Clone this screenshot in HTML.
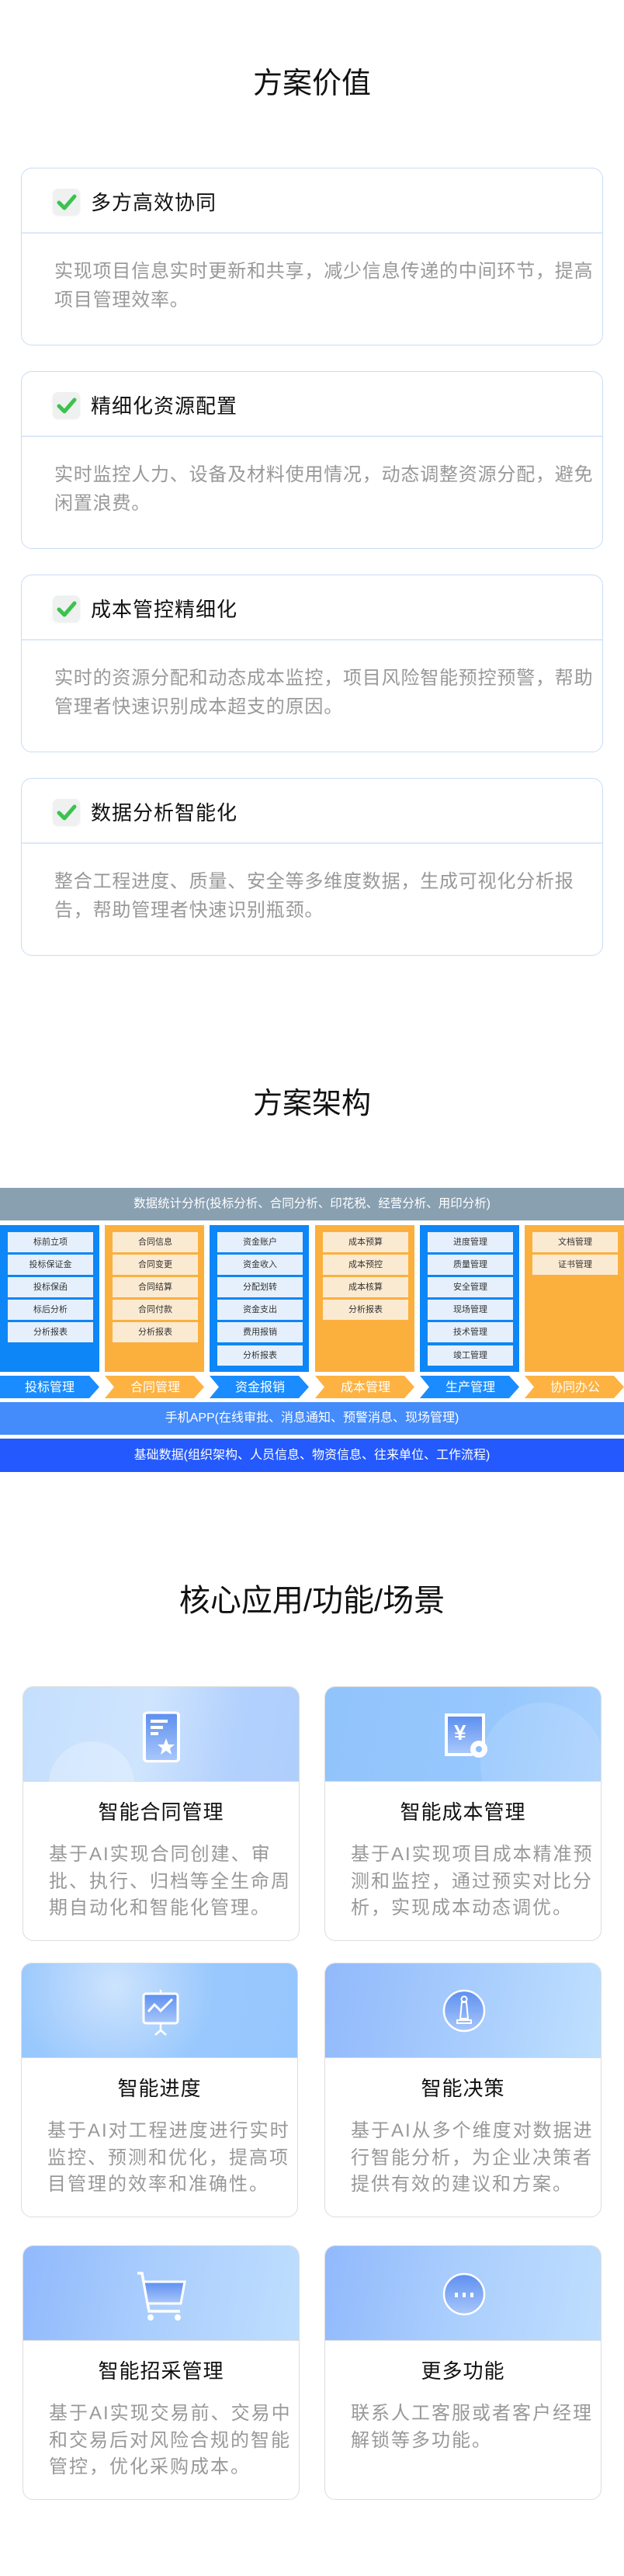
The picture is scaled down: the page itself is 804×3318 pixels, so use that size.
<!DOCTYPE html>
<html><head><meta charset="utf-8"><style>
*{margin:0;padding:0;box-sizing:border-box}
body{width:804px;height:3318px;background:#fff;position:relative;font-family:"Liberation Sans","Noto Sans CJK SC",sans-serif;overflow:hidden}
.a{position:absolute}
.h1{position:absolute;left:0;width:804px;text-align:center;font-size:38px;color:#111;line-height:46px}
.vc{position:absolute;left:27px;width:750px;height:229px;border:1.5px solid #cadcf6;border-radius:14px}
.vc .hd{position:absolute;left:0;top:0;width:100%;height:84px;border-bottom:2px solid #dce8fa}
.vc .ck{position:absolute;left:40px;top:26px;width:35px;height:34px;border-radius:7px;background:#eef1ef;box-shadow:0 1px 2px rgba(0,0,0,.08)}
.vc .tt{position:absolute;left:89px;top:27px;font-size:26px;letter-spacing:1px;color:#111;line-height:34px}
.vc .bd{position:absolute;left:42px;top:114px;font-size:24px;letter-spacing:0.8px;color:#999;line-height:37px;white-space:nowrap}
.col{position:absolute;top:1578px;width:128px;height:189px}
.blue{background:#0d86f7}.orange{background:#fbb03e}
.it{position:absolute;left:10px;width:110px;height:26px;font-size:11px;line-height:26px;text-align:center;color:#333}
.blue .it{background:#e6f0fc}.orange .it{background:#fbead2}
.bar{position:absolute;left:0;width:804px;color:#fff;font-size:16px;text-align:center}
.cd{position:absolute;width:357px;height:328px;border:1.5px solid #ddd;border-radius:14px;overflow:hidden;background:#fff}
.cd .im{position:absolute;left:0;top:0;width:100%;height:122px;border-bottom:1px solid #d5dbe5}
.cd .ti{position:absolute;left:0;width:100%;top:144px;text-align:center;font-size:26px;letter-spacing:1px;color:#111;line-height:34px}
.cd .tx{position:absolute;left:33px;top:199px;font-size:24px;letter-spacing:2px;color:#999;line-height:34.5px;white-space:nowrap}
.cd svg{position:absolute;left:148px;top:28px}
</style></head><body>

<div class="h1" style="top:85px">方案价值</div>

<div class="vc" style="top:216px"><div class="hd"><div class="ck"><svg width="35" height="34"><path d="M8 18 L15 25 L28 10" stroke="#3cc24f" stroke-width="5" fill="none" stroke-linecap="round" stroke-linejoin="round"/></svg></div><div class="tt">多方高效协同</div></div><div class="bd">实现项目信息实时更新和共享，减少信息传递的中间环节，提高<br>项目管理效率。</div></div>

<div class="vc" style="top:478px"><div class="hd"><div class="ck"><svg width="35" height="34"><path d="M8 18 L15 25 L28 10" stroke="#3cc24f" stroke-width="5" fill="none" stroke-linecap="round" stroke-linejoin="round"/></svg></div><div class="tt">精细化资源配置</div></div><div class="bd">实时监控人力、设备及材料使用情况，动态调整资源分配，避免<br>闲置浪费。</div></div>

<div class="vc" style="top:740px"><div class="hd"><div class="ck"><svg width="35" height="34"><path d="M8 18 L15 25 L28 10" stroke="#3cc24f" stroke-width="5" fill="none" stroke-linecap="round" stroke-linejoin="round"/></svg></div><div class="tt">成本管控精细化</div></div><div class="bd">实时的资源分配和动态成本监控，项目风险智能预控预警，帮助<br>管理者快速识别成本超支的原因。</div></div>

<div class="vc" style="top:1002px"><div class="hd"><div class="ck"><svg width="35" height="34"><path d="M8 18 L15 25 L28 10" stroke="#3cc24f" stroke-width="5" fill="none" stroke-linecap="round" stroke-linejoin="round"/></svg></div><div class="tt">数据分析智能化</div></div><div class="bd">整合工程进度、质量、安全等多维度数据，生成可视化分析报<br>告，帮助管理者快速识别瓶颈。</div></div>

<div class="h1" style="top:1399px">方案架构</div>

<div class="bar" style="top:1530px;height:42px;line-height:42px;background:#89a0b1;font-size:15.5px">数据统计分析(投标分析、合同分析、印花税、经营分析、用印分析)</div>

<div class="col blue" style="left:0">
<div class="it" style="top:9px">标前立项</div><div class="it" style="top:38px">投标保证金</div><div class="it" style="top:67px">投标保函</div><div class="it" style="top:96px">标后分析</div><div class="it" style="top:125px">分析报表</div></div>
<div class="col orange" style="left:135px">
<div class="it" style="top:9px">合同信息</div><div class="it" style="top:38px">合同变更</div><div class="it" style="top:67px">合同结算</div><div class="it" style="top:96px">合同付款</div><div class="it" style="top:125px">分析报表</div></div>
<div class="col blue" style="left:270px">
<div class="it" style="top:9px">资金账户</div><div class="it" style="top:38px">资金收入</div><div class="it" style="top:67px">分配划转</div><div class="it" style="top:96px">资金支出</div><div class="it" style="top:125px">费用报销</div><div class="it" style="top:155px">分析报表</div></div>
<div class="col orange" style="left:406px">
<div class="it" style="top:9px">成本预算</div><div class="it" style="top:38px">成本预控</div><div class="it" style="top:67px">成本核算</div><div class="it" style="top:96px">分析报表</div></div>
<div class="col blue" style="left:541px">
<div class="it" style="top:9px">进度管理</div><div class="it" style="top:38px">质量管理</div><div class="it" style="top:67px">安全管理</div><div class="it" style="top:96px">现场管理</div><div class="it" style="top:125px">技术管理</div><div class="it" style="top:155px">竣工管理</div></div>
<div class="col orange" style="left:676px">
<div class="it" style="top:9px">文档管理</div><div class="it" style="top:38px">证书管理</div></div>

<svg class="a" style="left:0;top:1772px" width="804" height="29">
<polygon points="0,0 115,0 128,14.5 115,29 0,29" fill="#1a8cff"/>
<polygon points="135,0 250,0 263,14.5 250,29 135,29 147,14.5" fill="#fdb241"/>
<polygon points="270,0 385,0 398,14.5 385,29 270,29 282,14.5" fill="#1a8cff"/>
<polygon points="406,0 521,0 534,14.5 521,29 406,29 418,14.5" fill="#fdb241"/>
<polygon points="541,0 656,0 669,14.5 656,29 541,29 553,14.5" fill="#1a8cff"/>
<polygon points="676,0 791,0 804,14.5 791,29 676,29 688,14.5" fill="#fdb241"/>
<g fill="#fff" font-size="16" text-anchor="middle" font-family="Liberation Sans,Noto Sans CJK SC,sans-serif">
<text x="64" y="20">投标管理</text><text x="200" y="20">合同管理</text><text x="335" y="20">资金报销</text><text x="471" y="20">成本管理</text><text x="606" y="20">生产管理</text><text x="741" y="20">协同办公</text></g>
</svg>

<div class="bar" style="top:1806px;height:42px;line-height:42px;background:#448bfb">手机APP(在线审批、消息通知、预警消息、现场管理)</div>
<div class="bar" style="top:1853px;height:43px;line-height:43px;background:#2459fe">基础数据(组织架构、人员信息、物资信息、往来单位、工作流程)</div>

<div class="h1" style="top:2039px;font-size:40px">核心应用/功能/场景</div>

<svg width="0" height="0" style="position:absolute"><defs><linearGradient id="g" x1="0" y1="0" x2="0" y2="1"><stop offset="0" stop-color="#5d8ff0"/><stop offset="1" stop-color="#a9c8fb"/></linearGradient></defs></svg>

<div class="cd" style="left:29px;top:2172px"><div class="im" style="background:linear-gradient(100deg,#c4dffd 0%,#cfe5fe 45%,#b3d1fd 75%,#b0cefc 100%)"><div class="a" style="left:33px;top:70px;width:110px;height:110px;border-radius:50%;background:rgba(255,255,255,.25)"></div>
<svg width="60" height="70" style="left:148px;top:30px"><rect x="8" y="4" width="44" height="80" rx="4" fill="url(#g)" stroke="#fff" stroke-width="4" transform="scale(1,0.78)"/><rect x="16" y="12" width="22" height="4" fill="#fff"/><rect x="16" y="20" width="16" height="4" fill="#fff"/><rect x="16" y="28" width="10" height="4" fill="#fff"/><polygon points="36,36 39,44 47,44 41,49 43,57 36,52 29,57 31,49 25,44 33,44" fill="#fff"/></svg></div>
<div class="ti">智能合同管理</div><div class="tx">基于AI实现合同创建、审<br>批、执行、归档等全生命周<br>期自动化和智能化管理。</div></div>

<div class="cd" style="left:418px;top:2172px"><div class="im" style="background:linear-gradient(100deg,#92c4fc,#96c7fd 60%,#a9d1fd)"><div class="a" style="left:200px;top:20px;width:160px;height:160px;border-radius:50%;background:rgba(255,255,255,.12)"></div>
<svg width="60" height="62" style="left:152px;top:32px"><rect x="6" y="6" width="44" height="47" fill="url(#g)"/><path d="M4 4 V55 H38" fill="none" stroke="#fff" stroke-width="4"/><path d="M2 4 H52 V40" fill="none" stroke="#fff" stroke-width="4"/><text x="14" y="36" fill="#fff" font-size="28" font-weight="bold" font-family="Liberation Sans,sans-serif">¥</text><circle cx="46" cy="48" r="11" fill="#fff"/><circle cx="46" cy="48" r="4" fill="#8dbffb"/></svg></div>
<div class="ti">智能成本管理</div><div class="tx">基于AI实现项目成本精准预<br>测和监控，通过预实对比分<br>析，实现成本动态调优。</div></div>

<div class="cd" style="left:27px;top:2528px"><div class="im" style="background:radial-gradient(circle at 120px 30px,#cde4fd 0,#b5d6fd 60px,#98c8fd 130px,#96c6fd)">
<svg width="60" height="60" style="left:150px;top:34px"><rect x="7" y="5" width="44" height="38" rx="3" fill="url(#g)" stroke="#fff" stroke-width="3"/><path d="M13 28 L21 19 L29 27 L44 12" stroke="#fff" stroke-width="3" fill="none"/><path d="M29 0 V5 M29 43 V52 L22 58 M29 52 L36 58" stroke="#fff" stroke-width="2.5" fill="none"/></svg></div>
<div class="ti">智能进度</div><div class="tx">基于AI对工程进度进行实时<br>监控、预测和优化，提高项<br>目管理的效率和准确性。</div></div>

<div class="cd" style="left:418px;top:2528px"><div class="im" style="background:linear-gradient(100deg,#92b9fb,#a7ccfd 50%,#bfe0fe)">
<svg width="60" height="60" style="left:149px;top:33px"><ellipse cx="30" cy="28" rx="26" ry="26" fill="url(#g)" stroke="#fff" stroke-width="2.5"/><circle cx="30" cy="13" r="3.5" fill="none" stroke="#fff" stroke-width="2"/><path d="M27 17 H33 L35 38 H25 Z M21 40 H39 V44 H21 Z" fill="none" stroke="#fff" stroke-width="2"/></svg></div>
<div class="ti">智能决策</div><div class="tx">基于AI从多个维度对数据进<br>行智能分析，为企业决策者<br>提供有效的建议和方案。</div></div>

<div class="cd" style="left:29px;top:2892px"><div class="im" style="background:linear-gradient(100deg,#91b9fc,#a9cdfd 45%,#bfdefe)">
<svg width="70" height="64" style="left:144px;top:32px"><path d="M3 3 H9 L18 52 H58" stroke="#fff" stroke-width="3.5" fill="none"/><path d="M11 14 H64 L59 42 H16 Z" fill="url(#g)" stroke="#fff" stroke-width="3"/><circle cx="20" cy="60" r="4" fill="#fff"/><circle cx="55" cy="60" r="4" fill="#fff"/></svg></div>
<div class="ti">智能招采管理</div><div class="tx">基于AI实现交易前、交易中<br>和交易后对风险合规的智能<br>管控，优化采购成本。</div></div>

<div class="cd" style="left:418px;top:2892px"><div class="im" style="background:linear-gradient(100deg,#91b9fc,#a9cdfd 45%,#bfdefe)">
<svg width="60" height="60" style="left:149px;top:34px"><ellipse cx="30" cy="28" rx="26" ry="26" fill="url(#g)" stroke="#fff" stroke-width="2.5"/><rect x="18" y="26" width="4" height="6" fill="#fff"/><rect x="28" y="26" width="4" height="6" fill="#fff"/><rect x="38" y="26" width="4" height="6" fill="#fff"/></svg></div>
<div class="ti">更多功能</div><div class="tx">联系人工客服或者客户经理<br>解锁等多功能。</div></div>

</body></html>
